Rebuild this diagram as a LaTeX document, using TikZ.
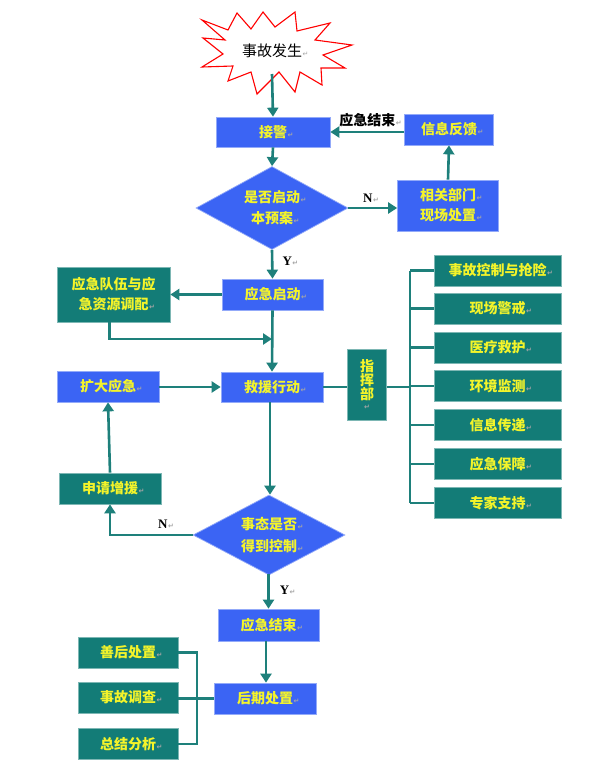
\documentclass[tikz,border=0pt]{standalone}
\usepackage{fontspec}
\setmainfont{Noto Sans CJK SC}
\newfontfamily\dejavu{DejaVu Sans}
\newfontfamily\lserif{Liberation Serif}
\usetikzlibrary{shapes.geometric,arrows.meta}
\definecolor{myblue}{HTML}{3B64F4}
\definecolor{myteal}{HTML}{137C77}
\definecolor{lineteal}{HTML}{1E807B}
\definecolor{txtyellow}{HTML}{F4F42A}
\newcommand\retmark{\rlap{\kern0.5pt{\dejavu\fontsize{7}{7}\selectfont\color{black!35}↵}}}
\tikzset{
  basebox/.style={rectangle, inner sep=0pt, align=center, text=txtyellow,
     font=\bfseries\fontsize{14}{20}\selectfont, line width=0.7pt},
  bluebox/.style={basebox, fill=myblue, draw=myblue!55!white},
  tealbox/.style={basebox, fill=myteal, draw=myteal!55!white},
  decision/.style={diamond, aspect=1.85, inner sep=0pt, align=center, text=txtyellow,
     font=\bfseries\fontsize{14}{21}\selectfont, fill=myblue, draw=myblue!55!white, line width=0.7pt},
  arr/.style={draw=lineteal, line width=2.6pt, -{Triangle[length=9pt,width=11pt]}},
  ln/.style={draw=lineteal, line width=2.6pt},
  yn/.style={font=\lserif\bfseries\fontsize{13}{13}\selectfont, text=black, inner sep=0pt},
}
\begin{document}
\begin{tikzpicture}[x=1pt,y=-1pt]
\useasboundingbox (0,0) rectangle (591,768);
\fill[white] (0,0) rectangle (591,768);

% starburst
\draw[red, line width=1.1pt, fill=white, line join=miter]
  (202,20) -- (228,30) -- (237,13) -- (251,29) -- (263,12) -- (275,27) --
  (295,12) -- (297,31) -- (330,23) -- (315,40) -- (352,45) -- (323,55) --
  (345,68) -- (321,68) -- (322,85) -- (300,72) -- (295,92) -- (279,72) --
  (257,94) -- (251,72) -- (228,81) -- (233,66) -- (202,67) -- (223,54) --
  (203,38) -- (225,40) -- cycle;
\node[font=\fontsize{15}{15}\selectfont, text=black, inner sep=0pt] (star) at (272,51) {事故发生\retmark};
\coordinate (starbot) at (272,74);

% main column
\node[bluebox, minimum width=114pt, minimum height=30pt] (jiejing) at (273,132) {接警\retmark};
\node[bluebox, minimum width=89pt, minimum height=31pt] (xinxi) at (449,129.5) {信息反馈\retmark};
\node[decision, minimum width=152pt, minimum height=83pt] (d1) at (272,208) {是否启动\retmark\\本预案\retmark};
\node[bluebox, minimum width=101pt, minimum height=51pt] (xiangguan) at (448,205.5) {相关部门\retmark\\现场处置\retmark};
\node[bluebox, minimum width=101pt, minimum height=31pt] (qidong) at (272.5,294.5) {应急启动\retmark};
\node[tealbox, minimum width=113pt, minimum height=55pt] (diaopei) at (113.5,294.5) {应急队伍与应\\急资源调配\retmark};
\node[bluebox, minimum width=102pt, minimum height=30pt] (jiuyuan) at (272,387) {救援行动\retmark};
\node[bluebox, minimum width=102pt, minimum height=31pt] (kuoda) at (108,386.5) {扩大应急\retmark};
\node[tealbox, minimum width=39pt, minimum height=71pt, font=\bfseries\fontsize{14}{14}\selectfont] (zhihui) at (367,384.5) {指\\挥\\部\\[-4pt]{\dejavu\fontsize{7}{7}\selectfont\color{black!35}↵}};

% right column
\node[tealbox, minimum width=127pt, minimum height=31pt] (r1) at (497.5,270.5) {事故控制与抢险\retmark};
\node[tealbox, minimum width=127pt, minimum height=31pt] (r2) at (497.5,308.5) {现场警戒\retmark};
\node[tealbox, minimum width=127pt, minimum height=31pt] (r3) at (497.5,347.5) {医疗救护\retmark};
\node[tealbox, minimum width=127pt, minimum height=31pt] (r4) at (497.5,386) {环境监测\retmark};
\node[tealbox, minimum width=127pt, minimum height=31pt] (r5) at (497.5,425) {信息传递\retmark};
\node[tealbox, minimum width=127pt, minimum height=31pt] (r6) at (497.5,464) {应急保障\retmark};
\node[tealbox, minimum width=127pt, minimum height=31pt] (r7) at (497.5,503) {专家支持\retmark};
\coordinate (busr) at (410,0);

% lower part
\node[decision, minimum width=152pt, minimum height=80pt, font=\bfseries\fontsize{14}{22}\selectfont] (d2) at (269,535) {事态是否\retmark\\得到控制\retmark};
\node[tealbox, minimum width=102pt, minimum height=31pt] (shenqing) at (110,488.5) {申请增援\retmark};
\node[bluebox, minimum width=101pt, minimum height=32pt] (jieshu) at (268.5,625) {应急结束\retmark};
\node[bluebox, minimum width=102pt, minimum height=31pt] (houqi) at (265,698.5) {后期处置\retmark};
\node[tealbox, minimum width=100pt, minimum height=31pt] (l1) at (128,652.5) {善后处置\retmark};
\node[tealbox, minimum width=100pt, minimum height=31pt] (l2) at (128,697.5) {事故调查\retmark};
\node[tealbox, minimum width=100pt, minimum height=31pt] (l3) at (128,744) {总结分析\retmark};
\coordinate (busl) at (197,0);
\coordinate (merge) at (272,339);

% connectors
\draw[arr] (starbot) -- (jiejing.north);
\draw[arr] (jiejing.south) -- (d1.north);
\draw[arr] (jiejing.east -| xinxi.west) -- (jiejing.east)
   node[midway, above=4pt, font=\bfseries\fontsize{14}{14}\selectfont, text=black, inner sep=0pt] (lblend) {应急结束\retmark};
\draw[arr] (d1.east) -- (xiangguan.west |- d1.east)
   node[pos=0.4, above=4pt, yn] (lbln1) {N\retmark};
\draw[arr] (xiangguan.north) -- (xinxi.south);
\draw[arr] (d1.south) -- (qidong.north)
   node[pos=0.4, right=9pt, yn] (lbly1) {Y\retmark};
\draw[arr] (qidong.west) -- (diaopei.east |- qidong.west);
\draw[arr] ([xshift=-4pt]diaopei.south) |- (merge);
\draw[arr] (qidong.south) -- (jiuyuan.north);
\draw[arr] (kuoda.east |- jiuyuan.west) -- (jiuyuan.west);
\draw[ln] (jiuyuan.east) -- (zhihui.west |- jiuyuan.east);
\draw[ln] (zhihui.east |- jiuyuan.east) -- (busr |- jiuyuan.east);
\draw[ln] (busr |- r1.west) -- (busr |- r7.west);
\foreach \r in {r1,r2,r3,r4,r5,r6,r7} { \draw[ln] (busr |- \r.west) -- (\r.west); }
\draw[arr] (jiuyuan.south -| 270,0) -- (d2.north -| 270,0);
\draw[arr] (d2.west) -| (shenqing.south)
   node[pos=0.18, above=5pt, yn] (lbln2) {N\retmark};
\draw[arr] (shenqing.north) -- (kuoda.south);
\draw[arr] (d2.south) -- (jieshu.north |- d2.south) -- (jieshu.north)
   node[pos=0.45, right=10pt, yn] (lbly2) {Y\retmark};
\draw[arr] (jieshu.south -| 266,0) -- (houqi.north -| 266,0);
\draw[ln] (houqi.west) -- (l2.east |- houqi.west);
\draw[ln] (l1.east) -- (busl |- l1.east) -- (busl |- l3.east) -- (l3.east);
\end{tikzpicture}
\end{document}
